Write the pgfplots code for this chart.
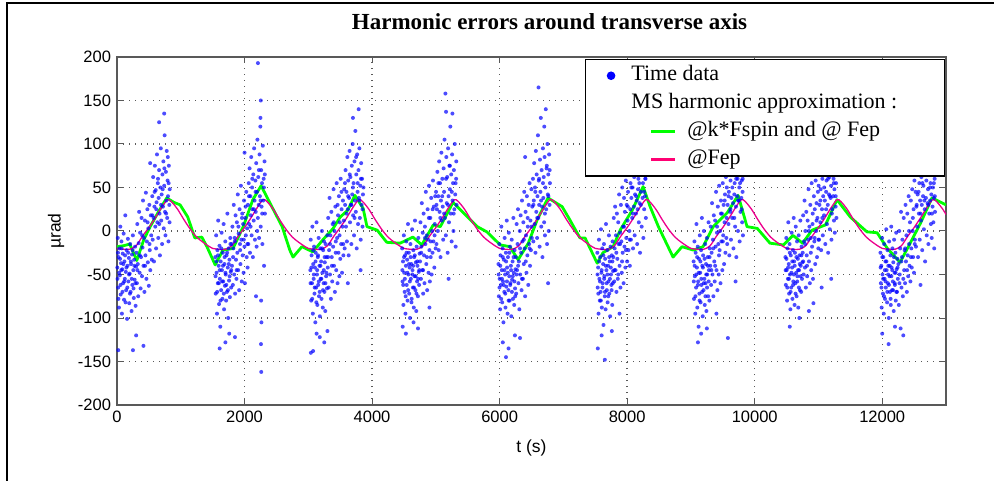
\documentclass[border=0pt]{standalone}
\usepackage{pgfplots}
\pgfplotsset{compat=1.18}
\usepackage{fontspec}
\setmainfont{Liberation Serif}
\setsansfont{Liberation Sans}
\definecolor{mgreen}{rgb}{0,1,0}
\definecolor{mpink}{rgb}{1,0,0.45}
\definecolor{axgray}{rgb}{0.35,0.35,0.35}

\begin{document}
\begin{tikzpicture}
\path[use as bounding box] (0pt,0pt) rectangle (994pt,480pt);
\draw[line width=2.5pt] (7pt,-10pt) -- (7pt,477pt) -- (1010pt,477pt);
\begin{axis}[
    at={(117pt,75pt)}, anchor=south west,
    width=829pt, height=348pt, scale only axis,
    xmin=0, xmax=13000, ymin=-200, ymax=200,
    xtick={0,2000,...,12000}, ytick={-200,-150,...,200},
    scaled x ticks=false, scaled y ticks=false,
    /pgf/number format/assume math mode=true,
    /pgf/number format/1000 sep={},
    tick label style={font=\sffamily\fontsize{16.5}{19}\selectfont},
    yticklabel style={xshift=-2.5pt},
    xticklabel style={yshift=-2pt},
    tick align=inside, major tick length=6pt,
    tick style={axgray, line width=1pt},
    axis line style={axgray, line width=1.6pt},
    grid=major,
    major grid style={black!65, line width=1.4pt, dash pattern=on 1.4pt off 4.6pt},
    title={Harmonic errors around transverse axis},
    title style={at={(axis description cs:0.5,1)}, anchor=base, yshift=21pt, xshift=18pt,
        font=\bfseries\fontsize{23}{27}\selectfont},
    xlabel={t (s)},
    xlabel style={at={(axis description cs:0.5,0)}, anchor=base, yshift=-47pt,
        font=\sffamily\fontsize{17.5}{20}\selectfont},
    ylabel={µrad},
    ylabel style={at={(axis description cs:-0.0736,0.5)}, anchor=center,
        font=\sffamily\fontsize{17.5}{20}\selectfont},
    legend cell align=left,
    legend style={at={(rel axis cs:1,1)}, anchor=north east, xshift=-1pt, yshift=-2pt,
        draw=black, line width=1.5pt, fill=white,
        font=\fontsize{22}{26}\selectfont,
        inner xsep=10pt, inner ysep=2pt, column sep=13pt, row sep=0pt,
        nodes={inner xsep=0pt, inner ysep=3pt, text height=16pt, text depth=6pt}},
]
% time data
\addplot[only marks, mark=*, mark size=2pt, blue,
    mark options={draw opacity=0, fill opacity=0.7},
    legend image code/.code={\path (0pt,0pt) (20pt,0pt); \fill[blue] (14pt,0pt) circle (3.5pt);}]
coordinates {
(5,-42) (12,-8) (18,-65) (25,-30) (31,-88) (38,-20) (44,-51) (52,5) (58,-73) (63,-37) (70,-12) (77,-95) (83,-44) (90,-26) (96,-60) (104,-3) (110,-79) (117,-35) (123,-55) (130,18) (138,-47) (144,-68) (151,-22) (158,-101) (165,-40) (171,-9) (178,-58) (186,-31) (192,-83) (199,-49) (207,-15) (214,-70) (220,-38) (228,-92) (235,-27) (241,-62) (249,-5) (256,-45) (263,-77) (270,-33) (277,-56) (284,-18) (292,-86) (298,-41)
(305,-25) (312,-60) (318,8) (326,-38) (333,-75) (340,-14) (347,22) (355,-48) (362,-2) (370,-66) (377,-30) (385,15) (392,-52) (400,-19) (408,35) (415,-40) (423,-8) (430,-70) (438,12) (446,-28) (453,44) (461,-55) (468,-12) (476,25) (484,-36) (491,3) (499,-63) (507,30) (514,-22) (522,-45) (530,18) (537,-5) (545,-33)
(553,40) (560,-10) (567,62) (573,15) (580,-35) (587,28) (594,75) (600,5) (607,47) (613,-20) (620,33) (627,88) (633,10) (640,55) (647,-8) (653,38) (660,70) (667,20) (673,-28) (680,50) (687,95) (693,12) (700,42) (707,-15) (713,65) (720,28) (727,80) (733,3) (740,52) (747,110) (753,22) (760,-5) (767,68) (773,35) (780,92) (787,15) (793,58) (800,40) (807,-12) (813,75) (820,30) (827,48)
(20,-137) (250,-137) (300,-120) (415,-132) (660,125) (740,135) (520,78)
(8,-55) (15,-25) (22,-78) (35,-48) (48,-32) (55,-62) (67,-45) (74,-20) (86,-70) (100,-38) (113,-58) (127,-28) (134,-82) (148,-42) (162,-65) (175,-25) (189,-50) (203,-72) (217,-35) (231,-55) (245,-22) (259,-66) (273,-40) (288,-60) (320,-45) (358,-28) (395,-5) (440,-40) (480,10) (510,-15) (555,18) (590,45) (616,25) (643,60) (663,8) (690,30) (717,48) (743,72) (770,20) (797,85) (810,55) (824,10)
(1542,-30) (1548,-72) (1555,-5) (1561,-48) (1568,-95) (1574,-22) (1581,-60) (1587,12) (1594,-40) (1600,-84) (1607,-17) (1613,-55) (1620,-110) (1626,-35) (1633,-68) (1640,-2) (1646,-45) (1653,-78) (1659,-25) (1666,-58) (1672,8) (1679,-90) (1685,-38) (1692,-63) (1698,-12) (1705,-50) (1711,-80) (1718,-28) (1724,-70) (1731,20) (1737,-42) (1744,-100) (1750,-20) (1757,-57) (1763,-33) (1770,-76) (1776,-8) (1783,-47) (1790,-65) (1796,-15)
(1803,-40) (1810,5) (1817,-62) (1824,-20) (1831,30) (1838,-50) (1845,-8) (1852,-72) (1859,18) (1866,-33) (1873,-55) (1880,10) (1887,-25) (1894,42) (1901,-45) (1908,-3) (1915,-68) (1922,25) (1929,-15) (1936,-38) (1943,52) (1950,-10) (1957,-58) (1964,20) (1971,-28) (1978,8) (1985,-48) (1992,35) (1999,-18) (2006,-60) (2013,15) (2020,-5) (2027,45) (2034,-30) (2041,3) (2048,-42)
(2053,30) (2059,-15) (2066,55) (2072,8) (2079,72) (2085,-25) (2092,40) (2098,18) (2105,85) (2111,-5) (2118,50) (2124,25) (2131,-30) (2137,65) (2144,12) (2150,95) (2157,35) (2163,-10) (2170,58) (2176,22) (2183,78) (2189,-18) (2196,45) (2202,105) (2209,15) (2215,62) (2222,30) (2228,-8) (2235,88) (2241,40) (2248,120) (2254,5) (2261,70) (2267,28) (2274,55) (2280,-15) (2287,98) (2293,35) (2300,60) (2306,-40) (2313,80) (2320,20)
(1610,-135) (1700,-128) (1760,-118) (1850,-122) (2210,193) (2262,-162) (2258,-130) (2255,150) (2265,-105) (2250,130) (2260,-80) (2180,-75) (2000,90)
(1545,-52) (1558,-35) (1571,-70) (1584,-28) (1597,-60) (1610,-45) (1623,-80) (1636,-20) (1649,-58) (1662,-40) (1675,-72) (1688,-30) (1701,-48) (1714,-62) (1727,-25) (1740,-68) (1753,-38) (1766,-52) (1779,-15) (1792,-45) (1820,-30) (1848,-12) (1876,-45) (1904,5) (1932,-22) (1960,15) (1988,-10) (2016,28) (2044,-15) (2070,40) (2095,5) (2121,60) (2147,25) (2173,45) (2199,0) (2225,70) (2251,35) (2277,20) (2303,50) (2318,65)
(3032,-45) (3038,-10) (3045,-80) (3051,-28) (3058,-60) (3064,5) (3071,-95) (3077,-38) (3084,-55) (3090,-18) (3097,-72) (3103,-42) (3110,-105) (3116,-25) (3123,-65) (3129,10) (3136,-50) (3142,-85) (3149,-30) (3155,-62) (3162,-8) (3168,-75) (3175,-40) (3181,-98) (3188,-20) (3194,-55) (3201,-35) (3207,-78) (3214,0) (3220,-48) (3227,-88) (3233,-22) (3240,-60) (3246,-12) (3253,-70) (3259,-36) (3266,-92) (3272,-15) (3279,-52) (3285,-30) (3292,-66) (3298,-5)
(3305,-42) (3312,15) (3319,-65) (3326,-22) (3333,38) (3340,-50) (3347,-5) (3354,-78) (3361,22) (3368,-30) (3375,-58) (3382,8) (3389,-18) (3396,48) (3403,-40) (3410,0) (3417,-70) (3424,28) (3431,-12) (3438,-45) (3445,55) (3452,-8) (3459,-60) (3466,18) (3473,-25) (3480,40) (3487,-52) (3494,10) (3501,-32) (3508,60) (3515,-15) (3522,25) (3529,-48) (3536,5) (3543,35) (3550,-28) (3557,12)
(3563,48) (3570,-20) (3577,30) (3584,70) (3591,5) (3598,45) (3605,-12) (3612,85) (3619,25) (3626,58) (3633,-28) (3640,38) (3647,92) (3654,10) (3661,62) (3668,30) (3675,-15) (3682,75) (3689,42) (3696,100) (3703,18) (3710,55) (3717,-5) (3724,80) (3731,35) (3738,115) (3745,22) (3752,65) (3759,-20) (3766,88) (3773,45) (3780,8) (3787,70) (3794,38) (3801,95) (3808,15) (3815,52) (3822,-10) (3829,78) (3836,30) (3843,60) (3850,5) (3857,42)
(3040,-140) (3075,-138) (3130,-118) (3180,-122) (3250,-128) (3300,-115) (3700,130) (3790,140) (3620,-60) (3820,-45)
(3035,-60) (3048,-42) (3061,-78) (3074,-22) (3087,-50) (3100,-65) (3113,-35) (3126,-82) (3139,-45) (3152,-28) (3165,-58) (3178,-70) (3191,-40) (3204,-55) (3217,-20) (3230,-68) (3243,-45) (3256,-30) (3269,-60) (3282,-48) (3310,-30) (3340,-15) (3370,-40) (3400,10) (3430,-25) (3460,30) (3490,-5) (3520,45) (3548,-15) (3575,55) (3600,20) (3625,40) (3650,65) (3675,30) (3700,50) (3725,15) (3750,85) (3775,55) (3800,35) (3825,60) (3850,25) (3865,50)
(4472,-20) (4478,-58) (4485,-35) (4491,-85) (4498,-5) (4504,-48) (4511,-70) (4517,-28) (4524,-95) (4530,-40) (4537,-12) (4543,-62) (4550,-33) (4556,-80) (4563,8) (4569,-50) (4576,-25) (4582,-72) (4589,-42) (4595,-100) (4602,-15) (4608,-55) (4615,-38) (4621,-78) (4628,2) (4634,-45) (4641,-65) (4647,-22) (4654,-88) (4660,-30) (4667,-52) (4673,12) (4680,-68) (4686,-36) (4693,-92) (4699,-18) (4706,-58) (4712,-40) (4719,-75) (4725,-8) (4732,-47) (4738,-62) (4745,-26)
(4752,-35) (4759,10) (4766,-55) (4773,-18) (4780,32) (4787,-45) (4794,-2) (4801,-72) (4808,20) (4815,-28) (4822,-60) (4829,5) (4836,-15) (4843,45) (4850,-38) (4857,-5) (4864,-68) (4871,25) (4878,-10) (4885,-48) (4892,52) (4899,-22) (4906,-58) (4913,15) (4920,-30) (4927,38) (4934,-50) (4941,0) (4948,-25) (4955,58) (4962,-12) (4969,28) (4976,-42) (4983,8) (4990,40) (4997,-20)
(5003,45) (5010,-15) (5017,25) (5024,68) (5031,0) (5038,40) (5045,-22) (5052,80) (5059,22) (5066,55) (5073,-30) (5080,35) (5087,90) (5094,12) (5101,60) (5108,28) (5115,-10) (5122,72) (5129,45) (5136,105) (5143,15) (5150,158) (5157,-5) (5164,85) (5171,32) (5178,62) (5185,-25) (5192,95) (5199,40) (5206,10) (5213,75) (5220,48) (5227,120) (5234,20) (5241,65) (5248,-12) (5255,88) (5262,35) (5269,55) (5276,0) (5283,70) (5290,25) (5297,100) (5304,42) (5311,-18) (5318,60) (5325,30)
(4480,-110) (4530,-118) (4650,-105) (4720,-112) (5160,137) (5260,135) (4900,-88) (5200,-55)
(4475,-45) (4488,-62) (4501,-30) (4514,-55) (4527,-75) (4540,-25) (4553,-48) (4566,-68) (4579,-38) (4592,-58) (4605,-30) (4618,-82) (4631,-50) (4644,-40) (4657,-65) (4670,-28) (4683,-52) (4696,-72) (4709,-35) (4722,-55) (4740,-45) (4770,-25) (4800,-45) (4830,-8) (4860,-30) (4890,15) (4920,-12) (4950,25) (4980,-5) (5010,30) (5040,55) (5070,15) (5100,40) (5130,20) (5160,60) (5190,30) (5220,75) (5250,45) (5280,20) (5310,55) (5320,80)
(5982,-38) (5988,-75) (5995,-15) (6001,-55) (6008,-90) (6014,-28) (6021,-62) (6027,5) (6034,-45) (6040,-82) (6047,-20) (6053,-58) (6060,-105) (6066,-33) (6073,-70) (6079,-8) (6086,-50) (6092,-88) (6099,-25) (6105,-64) (6112,12) (6118,-42) (6125,-95) (6131,-30) (6138,-68) (6144,-2) (6151,-52) (6157,-80) (6164,-18) (6170,-60) (6177,-40) (6183,-98) (6190,-10) (6196,-56) (6203,-35) (6209,-78) (6216,15) (6222,-48) (6229,-85) (6235,-22) (6242,-66) (6248,-44)
(6253,-30) (6260,-72) (6267,8) (6274,-45) (6281,-15) (6288,25) (6295,-60) (6302,-35) (6309,-90) (6316,0) (6323,-50) (6330,18) (6337,-25) (6344,-68) (6351,35) (6358,-12) (6365,-55) (6372,10) (6379,-38) (6386,45) (6393,-20) (6400,-75) (6407,22) (6414,-5) (6421,-48) (6428,40) (6435,-28) (6442,5) (6449,-62) (6456,30) (6463,-15) (6470,55) (6477,-40) (6484,12) (6491,-22) (6498,48) (6505,-8) (6512,28)
(6523,60) (6529,-12) (6536,35) (6542,78) (6549,8) (6555,50) (6562,-25) (6568,92) (6575,22) (6581,65) (6588,-8) (6594,40) (6601,110) (6607,15) (6614,58) (6620,30) (6627,-18) (6633,82) (6640,45) (6646,130) (6653,5) (6659,70) (6666,28) (6672,-30) (6679,95) (6685,38) (6692,62) (6698,10) (6705,85) (6711,-5) (6718,50) (6724,140) (6731,25) (6737,72) (6744,-15) (6750,100) (6757,42) (6763,65) (6770,0) (6776,88) (6783,30) (6789,55)
(6050,-128) (6100,-145) (6140,-135) (6240,-120) (6320,-123) (6610,165) (6700,120) (6760,-60) (6400,85)
(5985,-50) (5998,-65) (6011,-40) (6024,-78) (6037,-55) (6050,-30) (6063,-62) (6076,-45) (6089,-72) (6102,-35) (6115,-58) (6128,-48) (6141,-80) (6154,-25) (6167,-62) (6180,-45) (6193,-70) (6206,-52) (6219,-30) (6232,-58) (6245,-75) (6265,-50) (6290,-40) (6320,-20) (6350,-55) (6380,-10) (6410,-35) (6440,15) (6470,-20) (6500,5) (6530,30) (6560,45) (6590,15) (6620,60) (6650,35) (6680,55) (6710,20) (6740,75) (6765,40) (6785,70)
(7532,-25) (7538,-65) (7545,-42) (7551,-95) (7558,-10) (7564,-55) (7571,-80) (7577,-30) (7584,-70) (7590,2) (7597,-48) (7603,-88) (7610,-20) (7616,-60) (7623,-38) (7629,-108) (7636,-15) (7642,-52) (7649,-75) (7655,-32) (7662,-90) (7668,8) (7675,-45) (7681,-68) (7688,-22) (7694,-82) (7701,-40) (7707,-58) (7714,-5) (7720,-72) (7727,-35) (7733,-98) (7740,-18) (7746,-50) (7753,-62) (7759,-28) (7766,-85) (7772,-12) (7779,-46)
(7783,-30) (7790,15) (7797,-58) (7804,-20) (7811,28) (7818,-45) (7825,-5) (7832,-70) (7839,20) (7846,-32) (7853,-55) (7860,10) (7867,-15) (7874,42) (7881,-40) (7888,-2) (7895,-65) (7902,30) (7909,-12) (7916,-48) (7923,50) (7930,-25) (7937,5) (7944,-60) (7951,38) (7958,-18) (7965,22) (7972,-42) (7979,58) (7986,-8) (7993,30) (8000,-35) (8007,12) (8014,45) (8021,-22) (8028,65) (8035,0) (8042,-40) (8049,25)
(8053,55) (8059,-10) (8066,38) (8072,80) (8079,15) (8085,50) (8092,-20) (8098,95) (8105,28) (8111,62) (8118,-5) (8124,42) (8131,105) (8137,20) (8144,70) (8150,35) (8157,-15) (8163,88) (8170,48) (8176,60) (8183,10) (8189,78) (8196,32) (8202,-25) (8209,98) (8215,45) (8222,65) (8228,5) (8235,85) (8241,38) (8248,55) (8254,-8) (8261,75) (8267,25) (8274,90) (8280,40) (8287,60) (8293,15)
(7540,-135) (7600,-120) (7650,-148) (7760,-115) (7880,-95) (8000,80)
(7535,-50) (7548,-72) (7561,-35) (7574,-58) (7587,-80) (7600,-45) (7613,-65) (7626,-28) (7639,-55) (7652,-70) (7665,-40) (7678,-60) (7691,-50) (7704,-75) (7717,-30) (7730,-55) (7743,-42) (7756,-68) (7769,-35) (7775,-60) (7800,-45) (7830,-25) (7860,-50) (7890,-15) (7920,-35) (7950,5) (7980,-22) (8010,28) (8040,-10) (8065,50) (8090,20) (8115,70) (8140,40) (8165,25) (8190,55) (8215,30) (8240,75) (8265,45) (8285,60)
(9042,-35) (9048,-78) (9055,-12) (9061,-52) (9068,-95) (9074,-25) (9081,-65) (9087,8) (9094,-42) (9100,-88) (9107,-18) (9113,-58) (9120,-110) (9126,-32) (9133,-72) (9139,-5) (9146,-48) (9152,-82) (9159,-22) (9165,-62) (9172,15) (9178,-40) (9185,-98) (9191,-28) (9198,-68) (9204,0) (9211,-55) (9217,-85) (9224,-15) (9230,-60) (9237,-38) (9243,-92) (9250,-8) (9256,-50) (9263,-30) (9269,-75) (9276,10) (9282,-45) (9289,-80) (9295,-20)
(9303,-40) (9310,5) (9317,-62) (9324,-25) (9331,32) (9338,-50) (9345,-10) (9352,-75) (9359,18) (9366,-35) (9373,-58) (9380,12) (9387,-18) (9394,45) (9401,-45) (9408,-2) (9415,-68) (9422,28) (9429,-15) (9436,-50) (9443,52) (9450,-22) (9457,0) (9464,-60) (9471,35) (9478,-12) (9485,20) (9492,-45) (9499,55) (9506,-5) (9513,30) (9520,-38) (9527,10) (9534,42) (9541,-25) (9548,62) (9555,-8)
(9563,50) (9569,-15) (9576,30) (9582,72) (9589,8) (9595,45) (9602,-28) (9608,88) (9615,22) (9621,58) (9628,-10) (9634,38) (9641,98) (9647,15) (9654,65) (9660,32) (9667,-20) (9673,82) (9680,42) (9686,55) (9693,5) (9699,75) (9706,28) (9712,-30) (9719,92) (9725,40) (9732,60) (9738,0) (9745,80) (9751,35) (9758,50) (9764,-12) (9771,70) (9777,22) (9784,85) (9790,38) (9797,58) (9803,10) (9810,45) (9816,-5)
(9110,-128) (9160,-118) (9250,-112) (9580,-123) (9400,-95) (9700,-58)
(9045,-58) (9058,-40) (9071,-75) (9084,-50) (9097,-30) (9110,-62) (9123,-48) (9136,-80) (9149,-35) (9162,-55) (9175,-70) (9188,-42) (9201,-60) (9214,-32) (9227,-75) (9240,-50) (9253,-65) (9266,-40) (9279,-58) (9292,-30) (9320,-45) (9350,-20) (9380,-40) (9410,5) (9440,-28) (9470,20) (9500,-12) (9530,35) (9560,15) (9590,40) (9620,25) (9650,50) (9680,15) (9710,60) (9740,35) (9770,55) (9795,25) (9812,60)
(10482,-30) (10488,-62) (10495,-8) (10501,-45) (10508,-80) (10514,-20) (10521,-55) (10527,10) (10534,-38) (10540,-72) (10547,-15) (10553,-50) (10560,-90) (10566,-28) (10573,-65) (10579,-2) (10586,-42) (10592,-78) (10599,-22) (10605,-58) (10612,15) (10618,-35) (10625,-85) (10631,-25) (10638,-60) (10644,5) (10651,-48) (10657,-75) (10664,-12) (10670,-52) (10677,-32) (10683,-88) (10690,-5) (10696,-45) (10703,-28) (10709,-68) (10716,12) (10722,-40) (10729,-70) (10735,-18) (10742,-55) (10748,-36)
(10753,-25) (10760,18) (10767,-50) (10774,-12) (10781,35) (10788,-42) (10795,0) (10802,-65) (10809,22) (10816,-28) (10823,-52) (10830,12) (10837,-10) (10844,48) (10851,-35) (10858,5) (10865,-60) (10872,30) (10879,-8) (10886,-45) (10893,55) (10900,-18) (10907,8) (10914,-55) (10921,-83) (10928,40) (10935,-12) (10942,25) (10949,-38) (10956,58) (10963,0) (10970,32) (10977,-30) (10984,15) (10991,45) (10998,-20)
(11003,52) (11009,-10) (11016,30) (11022,75) (11029,10) (11035,48) (11042,-22) (11048,90) (11055,25) (11061,60) (11068,-5) (11074,40) (11081,100) (11087,18) (11094,68) (11100,35) (11107,-15) (11113,85) (11120,45) (11126,58) (11133,8) (11139,78) (11146,30) (11152,-25) (11159,95) (11165,42) (11172,62) (11178,2) (11185,82) (11191,38) (11198,52) (11204,-10) (11211,72) (11217,25) (11224,88) (11230,40) (11237,60) (11243,12) (11250,48) (11256,-2) (11263,70) (11269,28) (11276,55) (11282,15)
(10550,-110) (10700,-100) (10850,-92) (11050,-65) (11200,-55)
(10485,-45) (10498,-32) (10511,-65) (10524,-42) (10537,-55) (10550,-25) (10563,-70) (10576,-48) (10589,-35) (10602,-62) (10615,-50) (10628,-40) (10641,-72) (10654,-30) (10667,-58) (10680,-45) (10693,-65) (10706,-38) (10719,-52) (10732,-28) (10760,-35) (10790,-15) (10820,-40) (10850,0) (10880,-25) (10910,20) (10940,-8) (10970,12) (11000,-10) (11030,35) (11060,15) (11090,50) (11120,25) (11150,60) (11180,40) (11210,20) (11240,55) (11270,40)
(11972,-25) (11978,-60) (11985,-40) (11991,-88) (11998,-8) (12004,-50) (12011,-72) (12017,-30) (12024,-95) (12030,-15) (12037,-55) (12043,-78) (12050,-35) (12056,-65) (12063,2) (12069,-45) (12076,-82) (12082,-22) (12089,-60) (12095,-40) (12102,-100) (12108,-12) (12115,-52) (12121,-70) (12128,-28) (12134,-85) (12141,5) (12147,-42) (12154,-68) (12160,-20) (12167,-58) (12173,-36) (12180,-92) (12186,-10) (12193,-48) (12199,-62) (12206,-25) (12212,-80) (12219,-2) (12225,-44) (12232,-70) (12238,-32) (12245,-55)
(12253,-38) (12260,-85) (12267,0) (12274,-50) (12281,-20) (12288,-112) (12295,22) (12302,-65) (12309,-30) (12316,-10) (12323,-75) (12330,-120) (12337,15) (12344,-45) (12351,-22) (12358,-60) (12365,30) (12372,-35) (12379,-5) (12386,-70) (12393,20) (12400,-28) (12407,-52) (12414,40) (12421,-15) (12428,-40) (12435,10) (12442,-58) (12449,35) (12456,-20) (12463,-42) (12470,48) (12477,0) (12484,-30) (12491,25) (12498,-48) (12505,58) (12512,-10)
(12523,45) (12529,-18) (12536,28) (12542,70) (12549,5) (12555,42) (12562,-30) (12568,85) (12575,20) (12581,55) (12588,-10) (12594,35) (12601,95) (12607,12) (12614,62) (12620,30) (12627,-22) (12633,80) (12640,40) (12646,52) (12653,2) (12659,72) (12666,25) (12672,-35) (12679,90) (12685,38) (12692,58) (12698,-5) (12705,78) (12711,32) (12718,48) (12724,-15) (12731,68) (12737,20) (12744,82) (12750,35) (12757,55) (12763,8) (12770,42) (12776,-8) (12783,65) (12789,28) (12796,50) (12802,10) (12809,38) (12815,-20) (12822,60) (12828,22)
(12000,-118) (12100,-130) (12200,-110) (12600,-62)
(11975,-42) (11988,-65) (12001,-30) (12014,-55) (12027,-75) (12040,-45) (12053,-58) (12066,-35) (12079,-70) (12092,-50) (12105,-62) (12118,-40) (12131,-78) (12144,-52) (12157,-45) (12170,-68) (12183,-30) (12196,-60) (12209,-48) (12222,-70) (12240,-42) (12270,-60) (12300,-35) (12330,-55) (12360,-20) (12390,-45) (12420,0) (12450,-30) (12480,15) (12510,-15) (12540,30) (12570,45) (12600,20) (12630,55) (12660,35) (12690,65) (12720,30) (12750,50) (12780,20) (12810,55) (12825,40)
};
\addlegendentry{Time data}
\addlegendimage{empty legend}
\addlegendentry{MS harmonic approximation :\hspace*{37pt}}
% harmonic fit, k*Fspin and Fep
\addplot[mgreen, line width=2.8pt, line join=round,
    legend image code/.code={\path (0pt,0pt) (20pt,0pt); \draw[overlay, mgreen, line width=3pt] (54pt,0pt) -- (78pt,0pt);}]
coordinates {
(0,-18) (100,-17) (200,-15) (310,-34) (420,-10) (520,5) (650,22) (780,38) (890,33) (990,30) (1110,16) (1220,-8) (1330,-7) (1410,-18) (1540,-39) (1660,-22) (1820,-20) (1980,5) (2130,36) (2260,52) (2400,32) (2590,5) (2710,-22) (2760,-30) (2900,-18) (3070,-24) (3230,-10) (3390,3) (3500,16) (3620,24) (3730,41) (3860,26) (3920,5) (4080,1) (4230,-13) (4440,-14) (4640,-7) (4780,-16) (4960,7) (5070,5) (5270,33) (5430,21) (5650,5) (5800,-1) (6010,-16) (6160,-18) (6290,-33) (6450,-14) (6590,13) (6760,38) (6980,28) (7100,13) (7260,-8) (7340,-8) (7530,-37) (7620,-25) (7780,-18) (7890,1) (8080,24) (8250,51) (8360,28) (8490,5) (8720,-30) (8860,-18) (9040,-22) (9190,-18) (9350,5) (9570,21) (9740,41) (9880,5) (10040,3) (10240,-14) (10450,-16) (10600,-5) (10750,-14) (10900,1) (11110,7) (11290,36) (11500,16) (11760,-1) (11920,-2) (12080,-20) (12280,-36) (12410,-18) (12600,9) (12780,38) (13000,30)
};
\addlegendentry{\hspace*{56pt}@k*Fspin and @ Fep}
% harmonic fit, Fep only
\addplot[magenta, line width=1.3pt, smooth,
    legend image code/.code={\path (0pt,0pt) (20pt,0pt); \draw[overlay, mpink, line width=3pt] (54pt,0pt) -- (78pt,0pt);}]
coordinates {
(0,-20) (100,-21) (200,-21) (300,-17) (400,-6) (500,4) (600,15) (700,27) (790,36) (850,34) (950,25) (1050,13) (1150,2) (1250,-7) (1350,-13) (1450,-18)
(1500,-20) (1600,-21) (1700,-21) (1800,-17) (1900,-6) (2000,4) (2100,15) (2200,27) (2290,36) (2350,34) (2450,25) (2550,13) (2650,2) (2750,-7) (2850,-13) (2950,-18)
(3000,-20) (3100,-21) (3200,-21) (3300,-17) (3400,-6) (3500,4) (3600,15) (3700,27) (3790,36) (3850,34) (3950,25) (4050,13) (4150,2) (4250,-7) (4350,-13) (4450,-18)
(4500,-20) (4600,-21) (4700,-21) (4800,-17) (4900,-6) (5000,4) (5100,15) (5200,27) (5290,36) (5350,34) (5450,25) (5550,13) (5650,2) (5750,-7) (5850,-13) (5950,-18)
(6000,-20) (6100,-21) (6200,-21) (6300,-17) (6400,-6) (6500,4) (6600,15) (6700,27) (6790,36) (6850,34) (6950,25) (7050,13) (7150,2) (7250,-7) (7350,-13) (7450,-18)
(7500,-20) (7600,-21) (7700,-21) (7800,-17) (7900,-6) (8000,4) (8100,15) (8200,27) (8290,36) (8350,34) (8450,25) (8550,13) (8650,2) (8750,-7) (8850,-13) (8950,-18)
(9000,-20) (9100,-21) (9200,-21) (9300,-17) (9400,-6) (9500,4) (9600,15) (9700,27) (9790,36) (9850,34) (9950,25) (10050,13) (10150,2) (10250,-7) (10350,-13) (10450,-18)
(10500,-20) (10600,-21) (10700,-21) (10800,-17) (10900,-6) (11000,4) (11100,15) (11200,27) (11290,36) (11350,34) (11450,25) (11550,13) (11650,2) (11750,-7) (11850,-13) (11950,-18)
(12000,-20) (12100,-21) (12200,-21) (12300,-17) (12400,-6) (12500,4) (12600,15) (12700,27) (12790,36) (12850,34) (12950,25) (13000,19)
};
\addlegendentry{\hspace*{56pt}@Fep}
\end{axis}
\end{tikzpicture}
\end{document}
